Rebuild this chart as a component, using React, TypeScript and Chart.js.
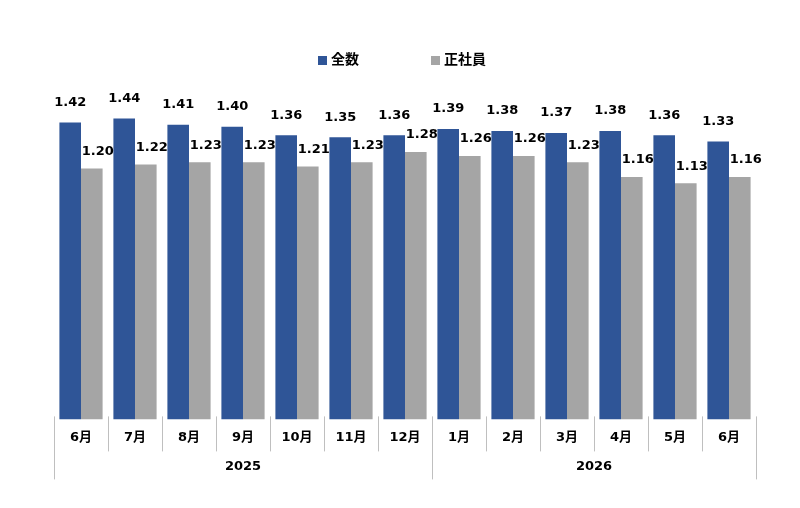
import { useEffect, useRef } from 'react';
import { Chart, registerables } from 'chart.js';

Chart.register(...registerables);

// month ticks, with the year each run of months belongs to
const months = ['6月', '7月', '8月', '9月', '10月', '11月', '12月', '1月', '2月', '3月', '4月', '5月', '6月'];
const yearLabels = ['2025', '2026'];
const yearSpans = [7, 6];

const seriesNames = ['全数', '正社員'];
const totalValues = [1.42, 1.44, 1.41, 1.40, 1.36, 1.35, 1.36, 1.39, 1.38, 1.37, 1.38, 1.36, 1.33];
const regularValues = [1.20, 1.22, 1.23, 1.23, 1.21, 1.23, 1.28, 1.26, 1.26, 1.23, 1.16, 1.13, 1.16];

const BLUE = '#2F5597';
const GRAY = '#A5A5A5';
const FONT = '"DejaVu Sans", "Noto Sans CJK JP", sans-serif';

// value labels above each bar
const valueLabels = {
  id: 'valueLabels',
  afterDatasetsDraw(chart: Chart) {
    const ctx = chart.ctx;
    ctx.save();
    ctx.font = `bold 13px ${FONT}`;
    ctx.fillStyle = '#000';
    ctx.textAlign = 'center';
    ctx.textBaseline = 'middle';
    chart.data.datasets.forEach((ds, di) => {
      const meta = chart.getDatasetMeta(di);
      meta.data.forEach((bar: any, i) => {
        const v = ds.data[i] as number;
        const dx = di === 0 ? 0 : 6;
        const dy = di === 0 ? 20 : 17;
        ctx.fillText(v.toFixed(2), bar.x + dx, bar.y - dy);
      });
    });
    ctx.restore();
  },
};

// separators between months and the year row underneath
const groupedAxis = {
  id: 'groupedAxis',
  afterDraw(chart: Chart) {
    const ctx = chart.ctx;
    const { left, right, bottom } = chart.chartArea;
    const step = (right - left) / months.length;
    const yearEdges = new Set<number>([0]);
    let acc = 0;
    yearSpans.forEach((n) => {
      acc += n;
      yearEdges.add(acc);
    });
    ctx.save();
    ctx.strokeStyle = '#BFBFBF';
    ctx.lineWidth = 1;
    for (let i = 0; i <= months.length; i++) {
      const x = Math.round(left + i * step) + 0.5;
      ctx.beginPath();
      ctx.moveTo(x, bottom - 3);
      ctx.lineTo(x, yearEdges.has(i) ? bottom + 60 : bottom + 32);
      ctx.stroke();
    }
    ctx.font = `bold 13px ${FONT}`;
    ctx.fillStyle = '#000';
    ctx.textAlign = 'center';
    ctx.textBaseline = 'middle';
    let start = 0;
    yearLabels.forEach((y, k) => {
      const x0 = left + start * step;
      const x1 = left + (start + yearSpans[k]) * step;
      ctx.fillText(y, (x0 + x1) / 2, bottom + 47);
      start += yearSpans[k];
    });
    ctx.restore();
  },
};

// legend drawn by hand, the items sit far apart
const spacedLegend = {
  id: 'spacedLegend',
  afterDraw(chart: Chart) {
    const ctx = chart.ctx;
    const items = [
      { x: 318, color: BLUE, text: seriesNames[0] },
      { x: 431, color: GRAY, text: seriesNames[1] },
    ];
    ctx.save();
    ctx.font = `bold 14px ${FONT}`;
    ctx.textBaseline = 'middle';
    ctx.textAlign = 'left';
    items.forEach((it) => {
      ctx.fillStyle = it.color;
      ctx.fillRect(it.x, 56, 9, 9);
      ctx.fillStyle = '#000';
      ctx.fillText(it.text, it.x + 13, 60);
    });
    ctx.restore();
  },
};

const App = () => {
  const canvasRef = useRef<HTMLCanvasElement>(null);
  const chartRef = useRef<Chart | null>(null);

  useEffect(() => {
    if (!canvasRef.current) return;
    if (chartRef.current) chartRef.current.destroy();
    chartRef.current = new Chart(canvasRef.current, {
      type: 'bar',
      data: {
        labels: months,
        datasets: [
          { label: seriesNames[0], data: totalValues, backgroundColor: BLUE },
          { label: seriesNames[1], data: regularValues, backgroundColor: GRAY },
        ],
      },
      options: {
        animation: false,
        responsive: true,
        maintainAspectRatio: false,
        layout: { padding: { left: 54, right: 44, top: 85, bottom: 53 } },
        plugins: {
          legend: { display: false },
          tooltip: { enabled: false },
        },
        datasets: {
          bar: { categoryPercentage: 0.8, barPercentage: 1.0 },
        },
        scales: {
          x: {
            grid: { display: false, drawTicks: false },
            border: { display: false },
            ticks: {
              color: '#000',
              padding: 10,
              font: { family: FONT, size: 13, weight: 'bold' },
              maxRotation: 0,
              autoSkip: false,
            },
          },
          y: {
            display: false,
            min: 0,
            max: 1.6,
          },
        },
      },
      plugins: [valueLabels, groupedAxis, spacedLegend],
    });
    return () => {
      if (chartRef.current) {
        chartRef.current.destroy();
        chartRef.current = null;
      }
    };
  }, []);

  return (
    <div style={{ position: 'absolute', left: 0, top: 0, width: 800, height: 508, background: '#fff' }}>
      <canvas ref={canvasRef} />
    </div>
  );
};

export default App;
